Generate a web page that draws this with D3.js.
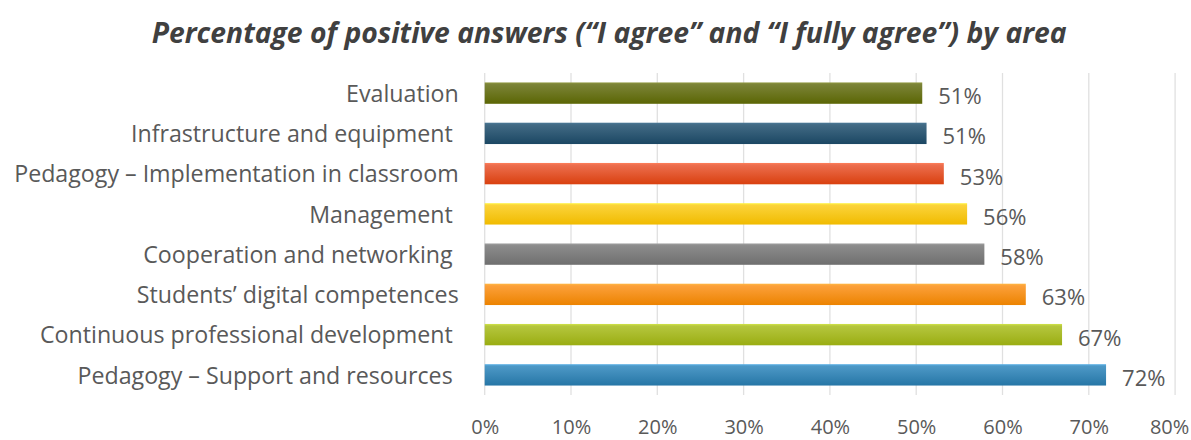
<!DOCTYPE html>
<html>
<head>
<meta charset="utf-8">
<script src="https://cdn.jsdelivr.net/npm/d3@7"></script>
<style>
  body { margin: 0; background: #fff; }
  text { font-family: "Open Sans", "Noto Sans", sans-serif; }
</style>
</head>
<body>
<div id="chart"></div>
<script>
var categories = [
  "Evaluation",
  "Infrastructure and equipment ",
  "Pedagogy \u2013 Implementation in classroom",
  "Management ",
  "Cooperation and networking ",
  "Students\u2019 digital competences",
  "Continuous professional development ",
  "Pedagogy \u2013 Support and resources "
];
var values = [0.507, 0.512, 0.532, 0.559, 0.579, 0.627, 0.669, 0.72];
var valueLabels = ["51%", "51%", "53%", "56%", "58%", "63%", "67%", "72%"];
var ticks = [0, 0.1, 0.2, 0.3, 0.4, 0.5, 0.6, 0.7, 0.8];

// top / bottom colours of each bar gradient
var barColors = [
  ["#7b8337", "#5b6604"],
  ["#426a84", "#1b4763"],
  ["#ec6e4e", "#d9400f"],
  ["#fbd33a", "#f0bb00"],
  ["#8c8c8c", "#6f6f6f"],
  ["#fca03a", "#ec8300"],
  ["#b5c63e", "#9aad12"],
  ["#4d98c6", "#2676a6"]
];

var svgWidth = 1191;
var svgHeight = 440;

var margin = { top: 73, right: 16, bottom: 45, left: 484.7 };
var width = svgWidth - margin.left - margin.right;
var height = svgHeight - margin.top - margin.bottom;

var svg = d3.select("#chart")
  .append("svg")
  .attr("width", svgWidth)
  .attr("height", svgHeight);

var defs = svg.append("defs");
barColors.forEach(function (c, i) {
  var g = defs.append("linearGradient")
    .attr("id", "grad" + i)
    .attr("x1", 0).attr("y1", 0)
    .attr("x2", 0).attr("y2", 1);
  g.append("stop").attr("offset", "0%").attr("stop-color", d3.color(c[0]).brighter(0.4));
  g.append("stop").attr("offset", "10%").attr("stop-color", c[0]);
  g.append("stop").attr("offset", "100%").attr("stop-color", c[1]);
});

svg.append("text")
  .attr("x", 151.7)
  .attr("y", 43.3)
  .attr("textLength", 915)
  .attr("lengthAdjust", "spacingAndGlyphs")
  .style("font-size", "29px")
  .style("font-weight", "bold")
  .style("font-style", "italic")
  .style("fill", "#404040")
  .text("Percentage of positive answers (\u201cI agree\u201d and \u201cI fully agree\u201d) by area");

var chart = svg.append("g").attr("transform", `translate(${margin.left}, ${margin.top})`);

var x = d3.scaleLinear()
  .domain([0, 0.8])
  .range([0, 690.4]);

var y = d3.scaleBand()
  .domain(categories)
  .range([0, height])
  .paddingInner(0.47)
  .paddingOuter(0.235);

// gridlines
chart.append("g")
  .selectAll("line")
  .data(ticks)
  .enter()
  .append("line")
  .attr("x1", function (d) { return x(d); })
  .attr("x2", function (d) { return x(d); })
  .attr("y1", 0)
  .attr("y2", height)
  .attr("stroke", "#e0e0e0")
  .attr("stroke-width", 1.3);

var bottomAxis = d3.axisBottom(x)
  .tickValues(ticks)
  .tickFormat(d3.format(".0%"))
  .tickSize(0)
  .tickPadding(25);

var xAxis = chart.append("g")
  .attr("transform", `translate(0, ${height})`)
  .call(bottomAxis);
xAxis.select(".domain").remove();
xAxis.selectAll("text")
  .style("font-size", "20px")
  .style("fill", "#595959")
  .style("font-family", "\"Open Sans\", sans-serif");
// last label sits a bit left so it stays inside the picture
xAxis.selectAll(".tick:last-of-type text").attr("x", -6);

var leftAxis = d3.axisLeft(y).tickSize(0).tickPadding(26);
var yAxis = chart.append("g").call(leftAxis);
yAxis.select(".domain").remove();
yAxis.selectAll("text")
  .style("font-size", "23.2px")
  .style("fill", "#595959")
  .style("white-space", "pre")
  .style("font-family", "\"Open Sans\", sans-serif")
  .attr("dy", "0.38em");

chart.selectAll(".bar")
  .data(values)
  .enter()
  .append("rect")
  .attr("class", "bar")
  .attr("x", 0)
  .attr("y", function (d, i) { return y(categories[i]); })
  .attr("width", function (d) { return x(d); })
  .attr("height", y.bandwidth())
  .attr("fill", function (d, i) { return "url(#grad" + i + ")"; });

chart.selectAll(".val")
  .data(values)
  .enter()
  .append("text")
  .attr("class", "val")
  .attr("x", function (d) { return x(d) + 16; })
  .attr("y", function (d, i) { return y(categories[i]) + y.bandwidth() / 2; })
  .attr("dy", "0.5em")
  .style("font-size", "22px")
  .style("fill", "#595959")
  .text(function (d, i) { return valueLabels[i]; });
</script>
</body>
</html>
